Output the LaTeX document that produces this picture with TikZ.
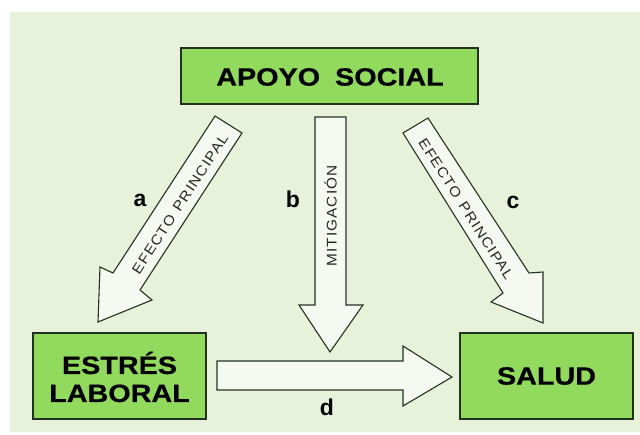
\documentclass[tikz,border=0pt]{standalone}
\usepackage{fontspec}
\setmainfont{Liberation Sans}
\newfontfamily\boxfont[FakeStretch=1.15,FakeBold=0.6]{Liberation Sans}
\newfontfamily\arrfont[LetterSpace=8,FakeStretch=1.1]{Liberation Sans}
\definecolor{bggreen}{RGB}{232,242,219}
\definecolor{boxgreen}{RGB}{146,218,94}
\definecolor{edgedark}{RGB}{35,50,30}
\definecolor{arrowfill}{RGB}{246,248,242}
\tikzset{
  greenbox/.style={draw=edgedark, line width=1.3pt, fill=boxgreen},
  boxtext/.style={font=\boxfont\bfseries\fontsize{25}{30}\selectfont, align=center, text=black, inner sep=0pt},
  fatarrow/.style={draw=edgedark, line width=1.1pt, fill=arrowfill, line join=miter},
  arrtext/.style={font=\arrfont\fontsize{14}{16}\selectfont, inner sep=0pt, text=black!85},
  letter/.style={font=\bfseries\fontsize{23}{26}\selectfont, inner sep=0pt}
}
\begin{document}
\begin{tikzpicture}[x=1pt,y=-1pt]
\useasboundingbox (0,0) rectangle (640,435);
\fill[white] (0,0) rectangle (640,435);
\fill[bggreen] (10,12) rectangle (640,432);
% boxes
\draw[greenbox] (181,48) rectangle (478,104);
\node[boxtext] (apoyo) at (330,77) {APOYO\hspace{0.6em}SOCIAL};
\draw[greenbox] (33,333) rectangle (206,419);
\node[boxtext] (estres) at (119.5,377) {ESTRÉS\\[-2pt]LABORAL};
\draw[greenbox] (460,333) rectangle (633,419);
\node[boxtext] (salud) at (546.5,376) {SALUD};
% arrow a
\draw[fatarrow] (215,116) -- (242,133) -- (140,290) -- (152,300) -- (98,322) -- (100,267) -- (113,273) -- cycle;
% arrow b
\draw[fatarrow] (315,117) -- (346,117) -- (346,305) -- (363,305) -- (330,352) -- (299,305) -- (315,305) -- cycle;
% arrow c
\draw[fatarrow] (428,118) -- (403,133) -- (503,293) -- (491,302) -- (543,323) -- (543,272) -- (529,273) -- cycle;
% arrow d
\draw[fatarrow] (217,361) -- (403,361) -- (403,346) -- (452,377) -- (403,406) -- (403,390) -- (217,390) -- cycle;
% arrow texts
\node[arrtext, rotate=57] (ta) at (180,204) {EFECTO\hspace{0.5em}PRINCIPAL};
\node[arrtext, rotate=90] (tb) at (330.5,216) {MITIGACIÓN};
\node[arrtext, rotate=-57.5] (tc) at (466,209) {EFECTO\hspace{0.5em}PRINCIPAL};
% letters
\node[letter] (la) at (140,200) {a};
\node[letter] (lb) at (293,199) {b};
\node[letter] (lc) at (513,202) {c};
\node[letter] (ld) at (327,407) {d};
\end{tikzpicture}
\end{document}
